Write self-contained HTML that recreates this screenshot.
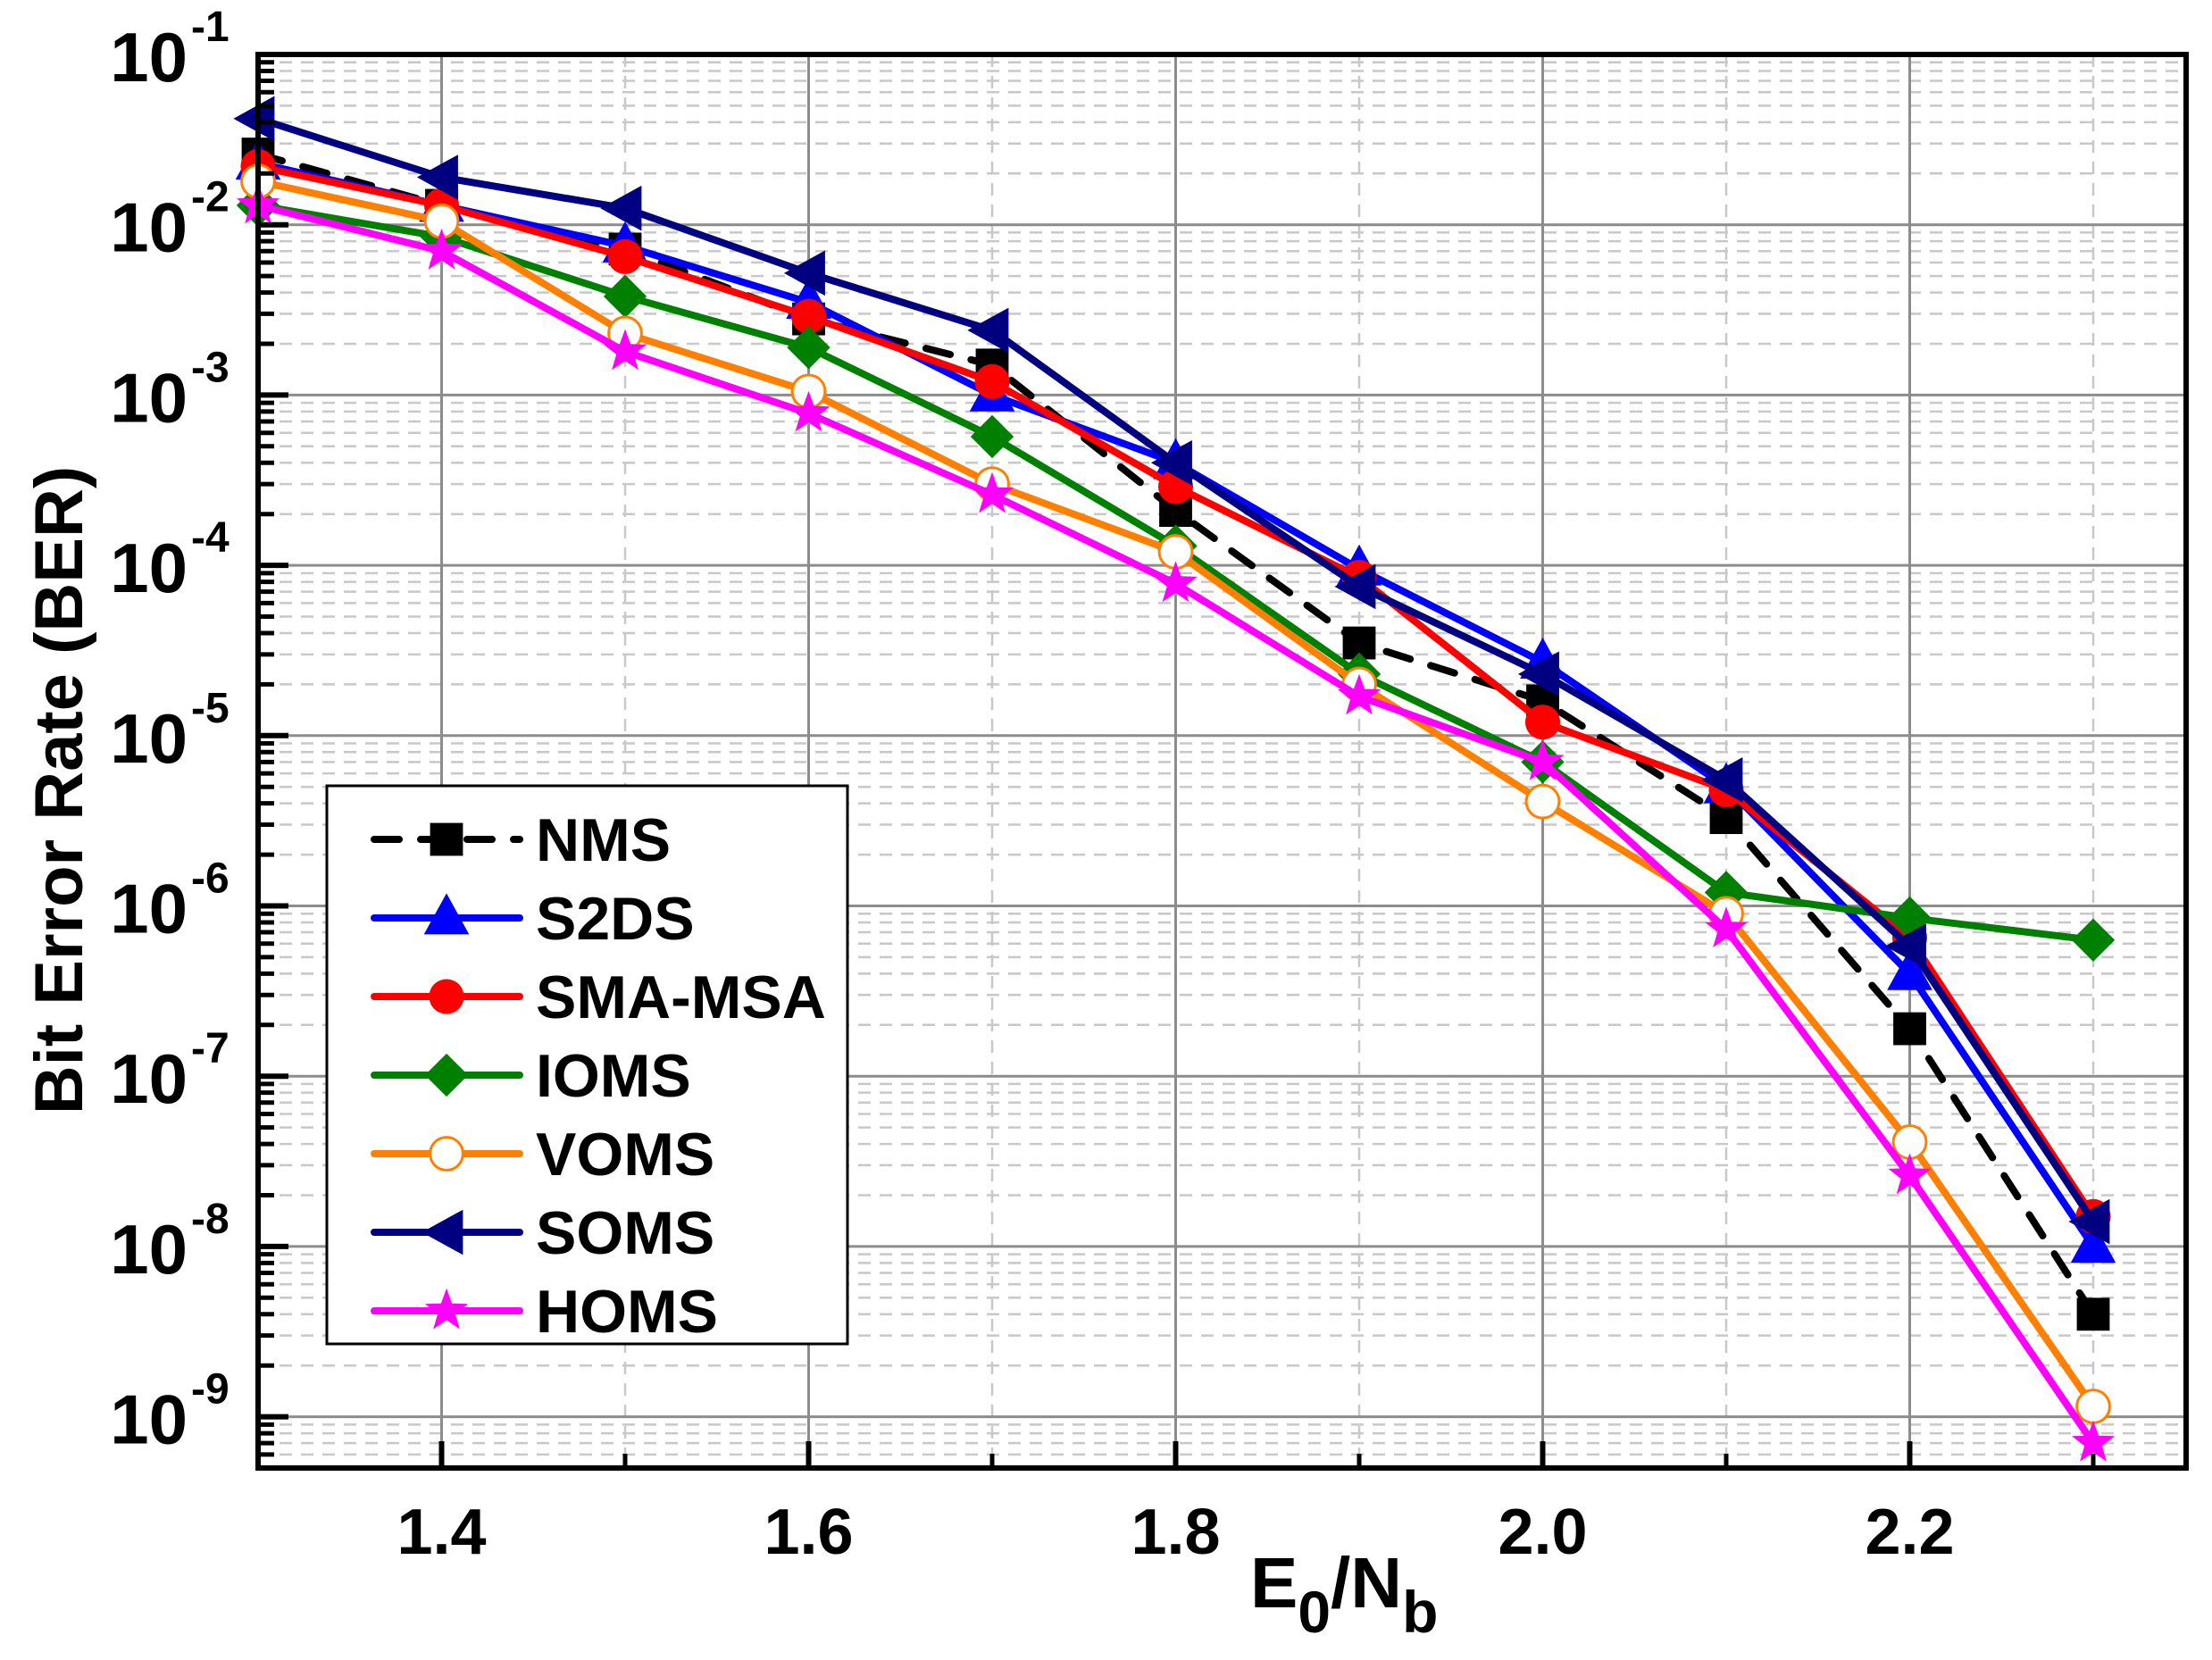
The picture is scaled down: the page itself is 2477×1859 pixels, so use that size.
<!DOCTYPE html>
<html><head><meta charset="utf-8"><style>
html,body{margin:0;padding:0;background:#fff;}
svg{display:block;font-family:"Liberation Sans",Arial,sans-serif;font-weight:bold;}
</style></head><body>
<svg id="chart" width="2477" height="1859" viewBox="0 0 2477 1859" xmlns="http://www.w3.org/2000/svg">
<rect width="2477" height="1859" fill="#fff"/>
<g id="grid"></g>
<g id="series"></g>
<g id="axes"></g>
<text x="0" y="0" transform="translate(92,885) rotate(-90)" text-anchor="middle" font-size="76">Bit Error Rate (BER)</text>
<text x="1400" y="1800" font-size="80">E<tspan font-size="66" dy="28">0</tspan><tspan dy="-28">/N</tspan><tspan font-size="66" dy="28">b</tspan></text>
<g id="legend"></g>
</svg>
<script>
const xTicks = [1.4, 1.6, 1.8, 2.0, 2.2];
const xTickLabels = ["1.4", "1.6", "1.8", "2.0", "2.2"];
const xMinorTicks = [1.3, 1.5, 1.7, 1.9, 2.1, 2.3];
const yDecades = [-1, -2, -3, -4, -5, -6, -7, -8, -9];
const xs = [1.3, 1.4, 1.5, 1.6, 1.7, 1.8, 1.9, 2.0, 2.1, 2.2, 2.3];
const seriesNames = ["NMS", "S2DS", "SMA-MSA", "IOMS", "VOMS", "SOMS", "HOMS"];
const nmsVals   = [2.6e-2, 1.3e-2, 7.2e-3, 2.8e-3, 1.5e-3, 2.1e-4, 3.5e-5, 1.6e-5, 3.3e-6, 1.9e-7, 4e-9];
const s2dsVals  = [2.3e-2, 1.3e-2, 7.5e-3, 3.5e-3, 1.0e-3, 4.0e-4, 9.5e-5, 2.7e-5, 5.0e-6, 4.0e-7, 1.0e-8];
const smaVals   = [2.2e-2, 1.3e-2, 6.5e-3, 2.9e-3, 1.2e-3, 2.9e-4, 8.5e-5, 1.2e-5, 4.8e-6, 6.5e-7, 1.5e-8];
const iomsVals  = [1.3e-2, 8.5e-3, 3.8e-3, 1.9e-3, 5.7e-4, 1.3e-4, 2.3e-5, 7.0e-6, 1.2e-6, 8.5e-7, 6.3e-7];
const vomsVals  = [1.8e-2, 1.05e-2, 2.3e-3, 1.05e-3, 3.0e-4, 1.2e-4, 2.0e-5, 4.1e-6, 9.0e-7, 4.1e-8, 1.15e-9];
const somsVals  = [4.2e-2, 1.9e-2, 1.25e-2, 5.2e-3, 2.4e-3, 4.0e-4, 7.5e-5, 2.3e-5, 5.5e-6, 5.8e-7, 1.4e-8];
const homsVals  = [1.3e-2, 7.0e-3, 1.8e-3, 7.8e-4, 2.6e-4, 7.8e-5, 1.7e-5, 7.0e-6, 7.3e-7, 2.6e-8, 7.0e-10];

const NS = "http://www.w3.org/2000/svg";
const L = 289, R = 2448, T = 61, B = 1644;
const xMin = 1.3, xMax = 2.3506;
const eTop = -1, dec = 190.7;
function sx(v){ return L + (v - xMin) / (xMax - xMin) * (R - L); }
function sy(v){ return T + (eTop - Math.log10(v)) * dec; }
function mk(tag, attrs, parent){ const e = document.createElementNS(NS, tag); for (const k in attrs) e.setAttribute(k, attrs[k]); parent.appendChild(e); return e; }

const grid = document.getElementById('grid');
const axes = document.getElementById('axes');
for (let d = -1; d >= -10; d--) {
  for (let m = 2; m <= 9; m++) {
    const v = m * Math.pow(10, d); const y = sy(v);
    if (y > T + 2 && y < B - 2) {
      const g = mk('line', {x1: L, x2: R, y1: y, y2: y, stroke: '#c8c8c8', 'stroke-width': 2.5, 'stroke-dasharray': '14 10'}, grid);
      
      
      const t = mk('line', {x1: L, x2: L + 18, y1: y, y2: y, stroke: '#000', 'stroke-width': 5}, axes);
      
      
    }
  }
}
xMinorTicks.forEach(v => {
  const x = sx(v);
  if (x > L + 2 && x < R - 2) {
    const g = mk('line', {x1: x, x2: x, y1: T, y2: B, stroke: '#c8c8c8', 'stroke-width': 2.5, 'stroke-dasharray': '14 10'}, grid);
    
    
  }
  const t = mk('line', {x1: x, x2: x, y1: B, y2: B - 16, stroke: '#000', 'stroke-width': 5}, axes);
  
  
});
xTicks.forEach((v, i) => {
  const x = sx(v);
  const g = mk('line', {x1: x, x2: x, y1: T, y2: B, stroke: '#8c8c8c', 'stroke-width': 3}, grid);
  
  
  const tk = mk('line', {x1: x, x2: x, y1: B, y2: B - 30, stroke: '#000', 'stroke-width': 6}, axes);
  
  
  const t = mk('text', {x: x, y: 1740, 'text-anchor': 'middle', 'font-size': 72}, axes);
  t.textContent = xTickLabels[i];
  
  
});
yDecades.forEach(d => {
  const y = sy(Math.pow(10, d));
  if (d !== -1) {
    const g = mk('line', {x1: L, x2: R, y1: y, y2: y, stroke: '#8c8c8c', 'stroke-width': 3}, grid);
    
    
  }
  const t = mk('line', {x1: L, x2: L + 34, y1: y, y2: y, stroke: '#000', 'stroke-width': 6}, axes);
  
  
  const lab = mk('text', {x: 210, y: y + 30, 'text-anchor': 'end', 'font-size': 78}, axes);
  lab.textContent = '10';
  
  
  const sup = mk('text', {x: 214, y: y - 15, 'font-size': 48}, axes);
  sup.textContent = String(d);
  
  
});
const frame = mk('rect', {x: L, y: T, width: R - L, height: B - T, fill: 'none', stroke: '#000', 'stroke-width': 6}, axes);



const styles = [
  {c: '#000000', m: 'square', dash: '28 24'},
  {c: '#0000ff', m: 'tri'},
  {c: '#ff0000', m: 'circle'},
  {c: '#008000', m: 'diamond'},
  {c: '#ff8000', m: 'ocircle'},
  {c: '#000080', m: 'ltri'},
  {c: '#ff00ff', m: 'star'}
];
const allVals = [nmsVals, s2dsVals, smaVals, iomsVals, vomsVals, somsVals, homsVals];

function marker(type, x, y, c, parent, s) {
  s = s || 1.15;
  let e;
  if (type === 'square') e = mk('rect', {x: x - 16*s, y: y - 16*s, width: 32*s, height: 32*s, fill: c}, parent);
  else if (type === 'circle') e = mk('circle', {cx: x, cy: y, r: 17*s, fill: c}, parent);
  else if (type === 'ocircle') e = mk('circle', {cx: x, cy: y, r: 16*s, fill: '#fff', stroke: c, 'stroke-width': 3}, parent);
  else if (type === 'tri') e = mk('polygon', {points: `${x},${y-24*s} ${x+22*s},${y+16*s} ${x-22*s},${y+16*s}`, fill: c}, parent);
  else if (type === 'ltri') e = mk('polygon', {points: `${x-24*s},${y} ${x+16*s},${y-22*s} ${x+16*s},${y+22*s}`, fill: c}, parent);
  else if (type === 'diamond') e = mk('polygon', {points: `${x},${y-21*s} ${x+21*s},${y} ${x},${y+21*s} ${x-21*s},${y}`, fill: c}, parent);
  else {
    let p = [];
    for (let k = 0; k < 10; k++) { const a = -Math.PI/2 + k*Math.PI/5; const r = (k%2 ? 9 : 22)*s; p.push((x + r*Math.cos(a)).toFixed(1) + ',' + (y + r*Math.sin(a)).toFixed(1)); }
    e = mk('polygon', {points: p.join(' '), fill: c}, parent);
  }
  return e;
}

const sg = document.getElementById('series');
allVals.forEach((vals, si) => {
  const st = styles[si];
  const g = mk('g', {}, sg);
  
  
  const pts = vals.map((v, i) => sx(xs[i]).toFixed(1) + ',' + sy(v).toFixed(1)).join(' ');
  const attrs = {points: pts, fill: 'none', stroke: st.c, 'stroke-width': 8, 'stroke-linejoin': 'round', 'stroke-linecap': 'round'};
  if (st.dash) attrs['stroke-dasharray'] = st.dash;
  const pl = mk('polyline', attrs, g);
  
  
  vals.forEach((v, i) => {
    const m = marker(st.m, sx(xs[i]), sy(v), st.c, g);
    
    
  });
});

const lg = document.getElementById('legend');
const box = mk('rect', {x: 366, y: 880, width: 583, height: 625, fill: '#fff', stroke: '#000', 'stroke-width': 3}, lg);


seriesNames.forEach((n, i) => {
  const st = styles[i];
  const y = 940 + i * 88;
  const g = mk('g', {}, lg);
  
  
  const la = {x1: 419, x2: 582, y1: y, y2: y, stroke: st.c, 'stroke-width': 8, 'stroke-linecap': 'round'};
  if (st.dash) la['stroke-dasharray'] = st.dash;
  mk('line', la, g);
  marker(st.m, 500, y, st.c, g);
  const t = mk('text', {x: 600, y: y + 24, 'font-size': 68}, g);
  t.textContent = n;
  
  
});
</script>
</body></html>
